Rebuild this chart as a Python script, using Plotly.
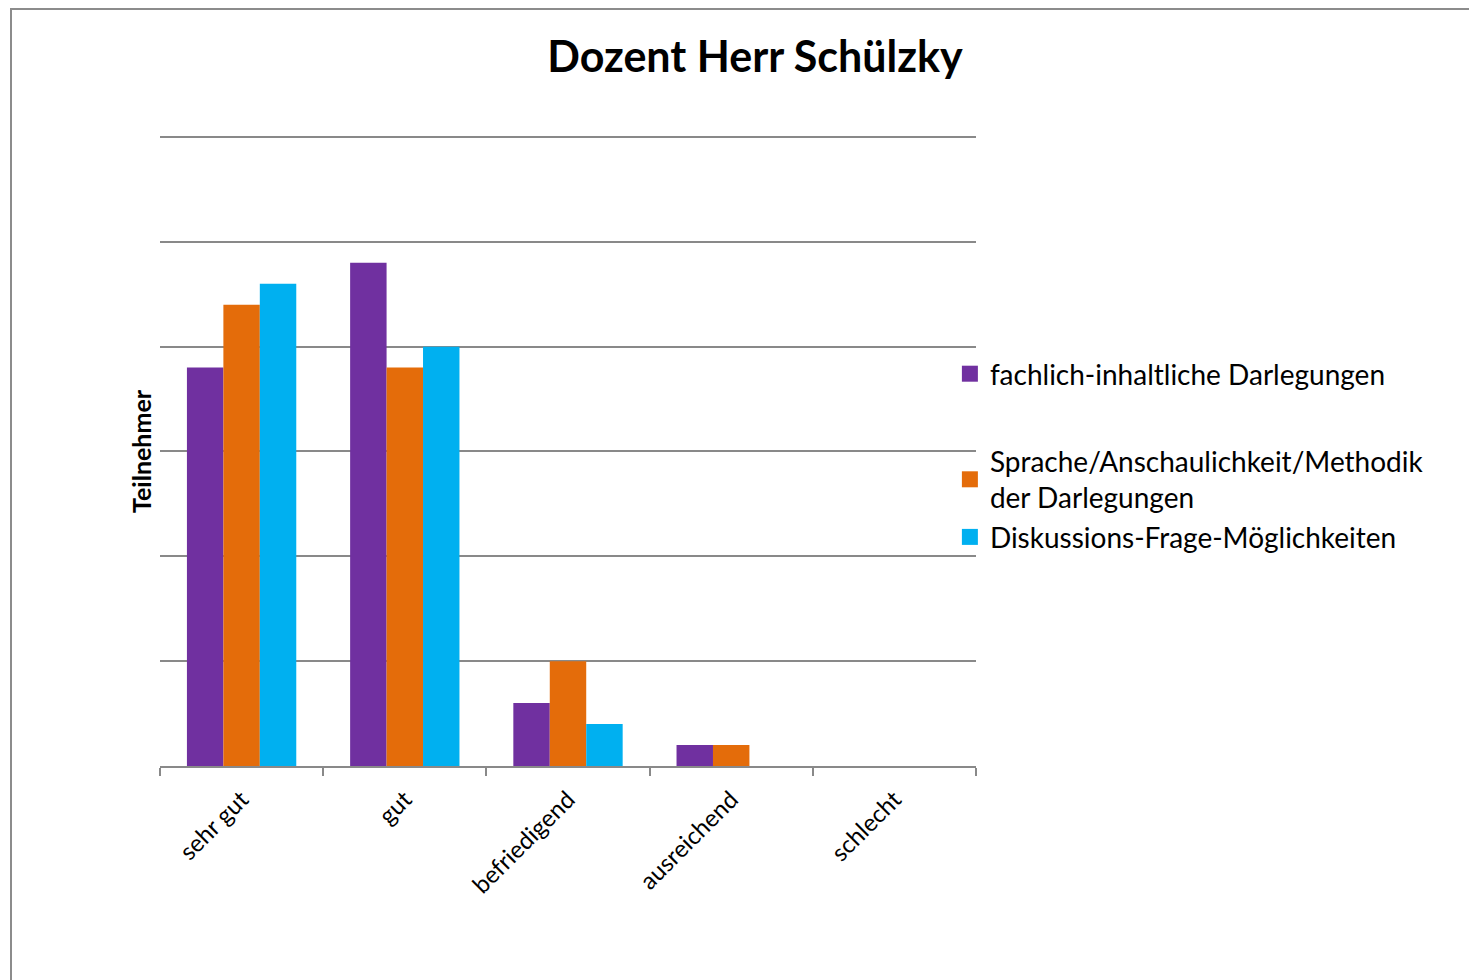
import plotly.graph_objects as go

kategorien = ["sehr gut", "gut", "befriedigend", "ausreichend", "schlecht"]
fachlich = [19, 24, 3, 1, 0]
sprache = [22, 19, 5, 1, 0]
diskussion = [23, 20, 2, 0, 0]

serien = [
    ("fachlich-inhaltliche Darlegungen", fachlich, "#7030A0", "a"),
    ("Sprache/Anschaulichkeit/Methodik<br>der Darlegungen", sprache, "#E46C0A", "b"),
    ("Diskussions-Frage-Möglichkeiten", diskussion, "#00B0F0", "b"),
]

fig = go.Figure()

for name, werte, farbe, gruppe in serien:
    fig.add_trace(go.Bar(
        x=kategorien,
        y=werte,
        name=name,
        marker=dict(color=farbe, line=dict(width=0)),
        legendgroup=gruppe,
        showlegend=False,
    ))
    # nur fuer die Legende (groessere Quadrate)
    fig.add_trace(go.Scatter(
        x=[None],
        y=[None],
        mode="markers",
        name=name,
        marker=dict(symbol="square", size=18, color=farbe),
        legendgroup=gruppe,
    ))

grau = "#898989"

# Seite hat 8px Rand: Plotflaeche y 125..758 im Figure-Koordinatensystem
def py(px):
    return (758 - px) / 633

fig.update_layout(
    width=1477,
    height=980,
    paper_bgcolor="white",
    plot_bgcolor="white",
    margin=dict(l=152, r=509, t=125, b=222),
    barmode="group",
    bargap=0.33,
    bargroupgap=0,
    font=dict(family="Lato, Open Sans, sans-serif", color="black"),
    title=dict(
        text="<b>Dozent Herr Schülzky</b>",
        font=dict(size=43, color="black"),
        x=(755 - 8) / 1477,
        xanchor="center",
        y=1 - (57 - 8) / 980,
        yanchor="middle",
    ),
    legend=dict(
        x=0.968,
        xanchor="left",
        y=py(349 - 8),
        yanchor="top",
        font=dict(size=28, color="black"),
        tracegroupgap=48,
        itemsizing="trace",
        bgcolor="rgba(0,0,0,0)",
    ),
    xaxis=dict(
        showgrid=False,
        showline=True,
        linecolor=grau,
        linewidth=2,
        ticks="outside",
        tickson="boundaries",
        ticklen=8,
        tickwidth=2,
        tickcolor=grau,
        tickangle=-45,
        ticklabelstandoff=8,
        tickfont=dict(size=24, color="black"),
    ),
    yaxis=dict(
        range=[0, 30.19],
        tick0=0,
        dtick=5,
        showticklabels=False,
        showgrid=True,
        gridcolor=grau,
        gridwidth=2,
        zeroline=False,
        showline=False,
    ),
    annotations=[dict(
        text="<b>Teilnehmer</b>",
        textangle=-90,
        xref="paper",
        yref="paper",
        x=(141 - 160) / 816,
        y=py(451 - 8),
        xanchor="center",
        yanchor="middle",
        showarrow=False,
        font=dict(size=25, color="black"),
    )],
    shapes=[dict(
        type="rect",
        xref="paper",
        yref="paper",
        x0=(11 - 160) / 816,
        x1=2,
        y0=-2,
        y1=py(1),
        line=dict(color="#8c8c8c", width=2),
        layer="below",
    )],
)

fig.write_html("out.html")
